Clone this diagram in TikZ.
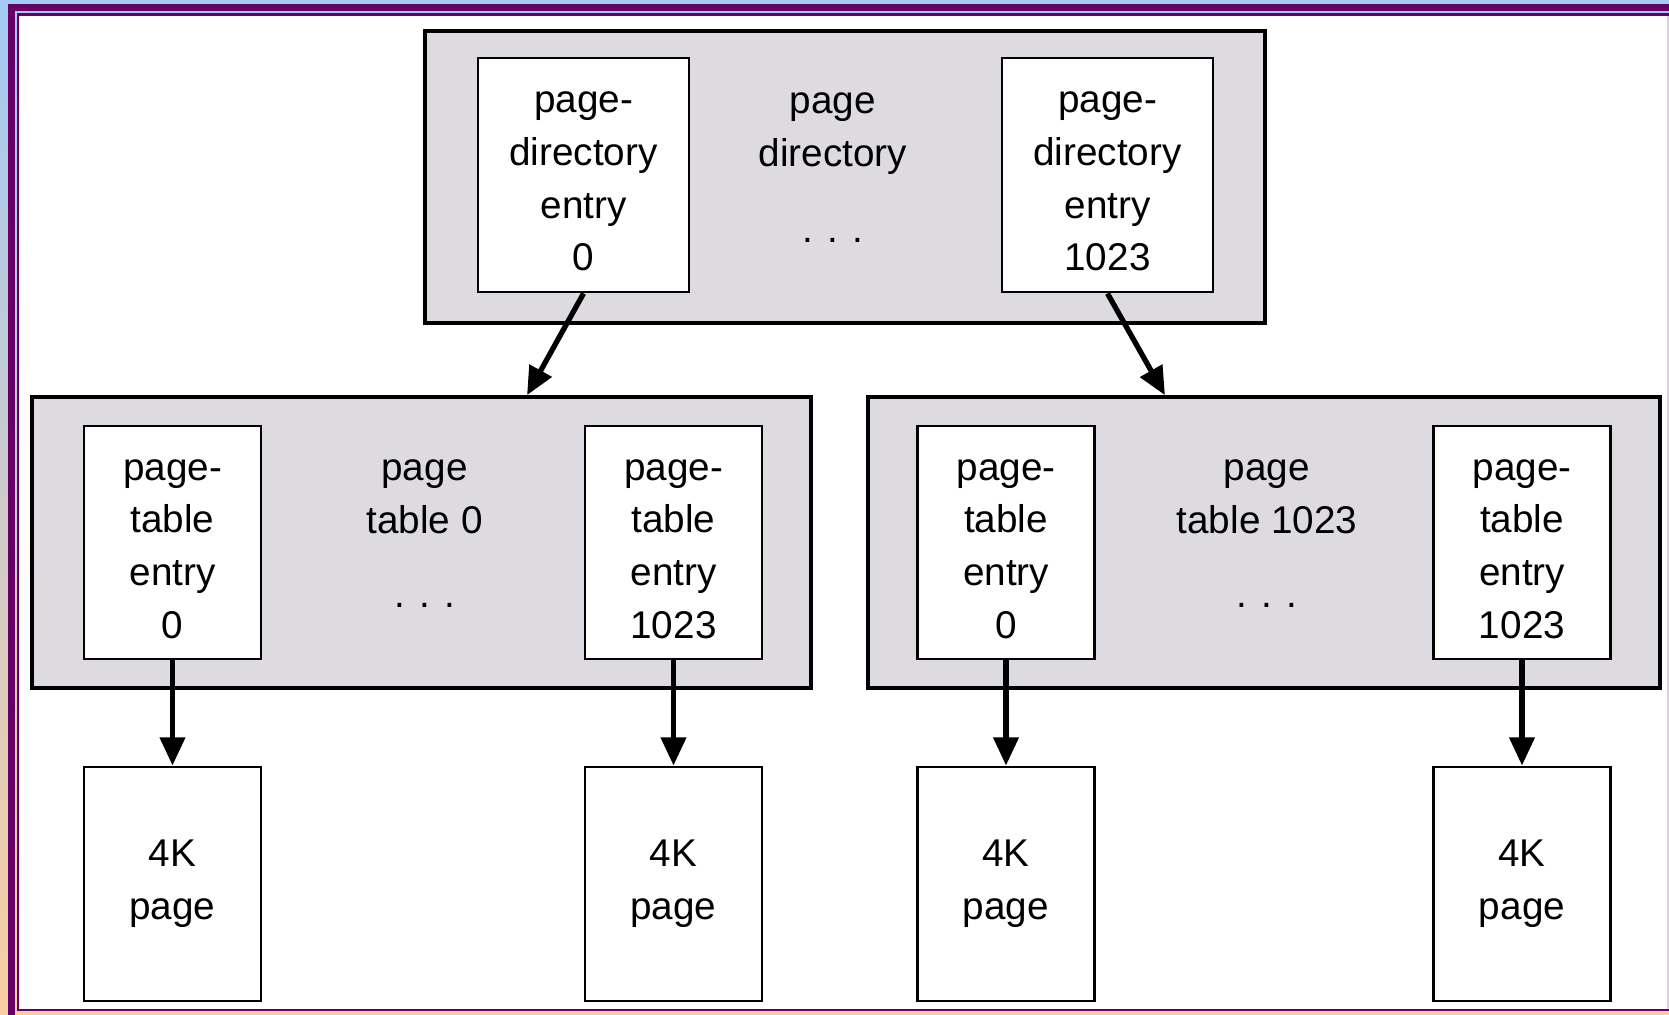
\documentclass[tikz,border=0pt]{standalone}
\usepackage{fontspec}
\setmainfont{Liberation Sans}
\usepackage{tikz}
\usepackage{xcolor}
\usetikzlibrary{arrows.meta, positioning}
\definecolor{slideblue}{RGB}{163,201,244}
\definecolor{slidepeach}{RGB}{248,206,162}
\definecolor{slidepurple}{RGB}{102,0,102}
\definecolor{tablegray}{RGB}{221,219,223}
\newcommand{\topstrut}{\rule{0pt}{9.6pt}}
\tikzstyle{tablebox} = [rectangle, draw=black, line width=1pt, fill=tablegray]
\tikzstyle{pagebox} = [rectangle, minimum width=1.77cm, minimum height=2.34cm, inner sep=0pt, text centered, align=center, draw=black, line width=0.8pt, fill=white]
\tikzstyle{entrybox} = [pagebox, minimum height=2.33cm]
\tikzstyle{direntrybox} = [entrybox, minimum width=2.11cm, minimum height=2.34cm]
\tikzstyle{title} = [align=center]
\tikzstyle{arrow} = [line width=1.5pt, -{Triangle[length=8pt, width=7pt]}]
\tikzset{
  font={\fontsize{11pt}{15pt}\selectfont}}

\begin{document}
\begin{tikzpicture}[x=0.01cm, y=-0.01cm]
    \useasboundingbox (0,0) rectangle (1669,1015);
    % slide frame
    \shade [top color=slideblue, bottom color=slidepeach] (0,0) rectangle (1669,1015);
    \fill [slidepurple] (8,4) rectangle (1669,11);
    \fill [slidepurple] (8,4) rectangle (15,1015);
    \fill [slidepurple] (17,13) rectangle (1669,16);
    \fill [slidepurple] (17,13) rectangle (19,1011);
    \fill [slidepurple] (17,1009) rectangle (1669,1011);
    \fill [white] (19,16) rectangle (1669,1009);
    \draw [slidepurple!20] (1668,16) -- (1668,1009);

    % tables
    \node (pdir) [tablebox, minimum width=8.4cm, minimum height=2.92cm] at (845,177) {};
    \node (ptab0) [tablebox, minimum width=7.79cm, minimum height=2.91cm] at (421.5,542.5) {};
    \node (ptab1023) [tablebox, minimum width=7.92cm, minimum height=2.91cm] at (1264,542.5) {};

    \node (pdtitle) [title] at (833,133.5) {page\\directory};
    \node (pddots) at (833,240) {. . .};
    \node (pt0title) [title] at (424.5,497) {page\\table 0};
    \node (pt0dots) at (424.5,605) {. . .};
    \node (pt1023title) [title] at (1267,497) {page\\table 1023};
    \node (pt1023dots) at (1267,605) {. . .};

    % entries
    \node (pde0) [direntrybox] at (583.5,175) {\topstrut page-\\directory\\entry\\0};
    \node (pde1023) [direntrybox] at (1107.5,175) {\topstrut page-\\directory\\entry\\1023};
    \node (pt0e0) [entrybox] at (172.5,542.5) {\topstrut page-\\table\\entry\\0};
    \node (pt0e1023) [entrybox] at (673.5,542.5) {\topstrut page-\\table\\entry\\1023};
    \node (pt1023e0) [entrybox] at (1006,542.5) {\topstrut page-\\table\\entry\\0};
    \node (pt1023e1023) [entrybox] at (1522,542.5) {\topstrut page-\\table\\entry\\1023};

    % pages
    \node (pg0) [pagebox, below=1.05cm of pt0e0] {4K\\page};
    \node (pg1) [pagebox, below=1.05cm of pt0e1023] {4K\\page};
    \node (pg2) [pagebox, below=1.05cm of pt1023e0] {4K\\page};
    \node (pg3) [pagebox, below=1.05cm of pt1023e1023] {4K\\page};

    \draw [arrow] (pde0.south) -- ([xshift=1.055cm]ptab0.north);
    \draw [arrow] (pde1023.south) -- ([xshift=-0.99cm]ptab1023.north);
    \draw [arrow] (pt0e0) -- (pg0);
    \draw [arrow] (pt0e1023) -- (pg1);
    \draw [arrow] (pt1023e0) -- (pg2);
    \draw [arrow] (pt1023e1023) -- (pg3);
\end{tikzpicture}
\end{document}
